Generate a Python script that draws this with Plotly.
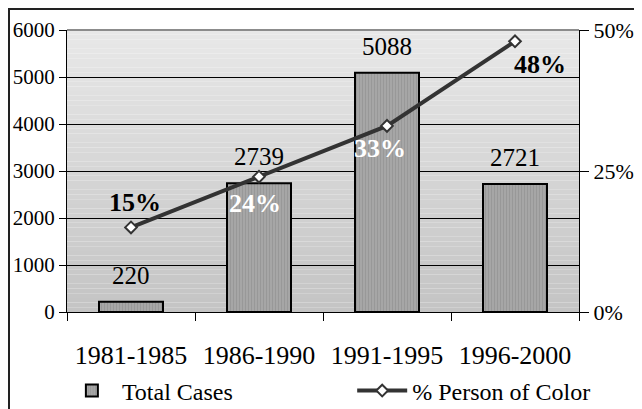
import plotly.graph_objects as go

periods = ["1981-1985", "1986-1990", "1991-1995", "1996-2000"]
total_cases = [220, 2739, 5088, 2721]
pct_color = [0.15, 0.24, 0.33, 0.48]

# label styling (offsets in px, colours) for the percent labels
pct_label_shift = [(4, 25), (-4, -27), (-7, -23), (25, -23)]
pct_label_color = ["black", "white", "white", "black"]

FONT = "Liberation Serif"

# plot area in figure pixels (page adds an 8px body margin)
L, T, W, H = 59, 22, 512, 282
FIG_W, FIG_H = 642, 409

fig = go.Figure()

# gradient plot background (stacked strips, paper coords)
n = 60
top = (232, 232, 232)
bot = (196, 196, 196)
for i in range(n):
    t = i / (n - 1)
    c = tuple(int(round(bot[k] + (top[k] - bot[k]) * t)) for k in range(3))
    fig.add_shape(type="rect", xref="paper", yref="paper",
                  x0=0, x1=1, y0=i / n, y1=(i + 1) / n,
                  fillcolor=f"rgb{c}", line_width=0, layer="below")

fig.add_trace(go.Bar(
    x=periods, y=total_cases, name="Total Cases", width=0.5,
    marker=dict(color="#a2a2a2", line=dict(color="black", width=2),
                pattern=dict(shape="|", size=3, solidity=0.35, fgcolor="#8a8a8a", bgcolor="#a6a6a6")),
    yaxis="y", legend="legend",
))

fig.add_trace(go.Scatter(
    x=periods, y=pct_color, name="% Person of Color", mode="lines+markers",
    line=dict(color="#333333", width=4),
    marker=dict(symbol="diamond", size=9, color="white", line=dict(color="#333333", width=2)),
    yaxis="y2", legend="legend2",
))

for p, v in zip(periods, total_cases):
    fig.add_annotation(x=p, y=v, xref="x", yref="y", text=str(v), showarrow=False,
                       yanchor="bottom", yshift=11,
                       font=dict(family=FONT, size=25, color="black"))

for p, v, (dx, dy), col in zip(periods, pct_color, pct_label_shift, pct_label_color):
    fig.add_annotation(x=p, y=v, xref="x", yref="y2", text=f"<b>{round(v*100)}%</b>",
                       showarrow=False, xshift=dx, yshift=dy,
                       font=dict(family=FONT, size=26, color=col))

# top border of plot area
fig.add_shape(type="line", xref="paper", yref="paper", x0=0, x1=1, y0=1, y1=1,
              line=dict(color="#8c8c8c", width=2))
# outer chart frame (only left/top visible in crop)
fx0 = (1 - L) / W
fy1 = 1 + (T - 1) / H
fig.add_shape(type="rect", xref="paper", yref="paper",
              x0=fx0, x1=1.3, y0=-0.6, y1=fy1,
              line=dict(color="#222222", width=2), fillcolor="rgba(0,0,0,0)")

legend_common = dict(orientation="h", xanchor="left", y=-0.28, yanchor="middle",
                     font=dict(family=FONT, size=24), itemwidth=50,
                     bgcolor="rgba(0,0,0,0)")

fig.update_layout(
    width=FIG_W, height=FIG_H,
    margin=dict(l=L, r=FIG_W - L - W, t=T, b=FIG_H - T - H, autoexpand=False),
    paper_bgcolor="white", plot_bgcolor="rgba(0,0,0,0)",
    font=dict(family=FONT, size=22, color="black"),
    showlegend=True,
    legend=dict(x=-0.01, **legend_common),
    legend2=dict(x=0.557, **legend_common),
    xaxis=dict(showline=True, linecolor="black", linewidth=1,
               ticks="outside", ticklen=8, tickcolor="black", tickson="boundaries",
               ticklabelstandoff=20,
               tickfont=dict(family=FONT, size=26)),
    yaxis=dict(range=[0, 6000], dtick=1000, showline=True, linecolor="black", linewidth=1,
               ticks="outside", ticklen=7, tickcolor="black",
               showgrid=True, gridcolor="black", gridwidth=1,
               tickfont=dict(family=FONT, size=21), zeroline=False),
    yaxis2=dict(range=[0, 0.5], tickvals=[0, 0.25, 0.5], tickformat=".0%",
                overlaying="y", side="right", showgrid=False, zeroline=False,
                showline=True, linecolor="black", linewidth=1,
                ticks="outside", ticklen=9, tickcolor="black",
                tickfont=dict(family=FONT, size=22)),
)

fig.write_html("out.html")
